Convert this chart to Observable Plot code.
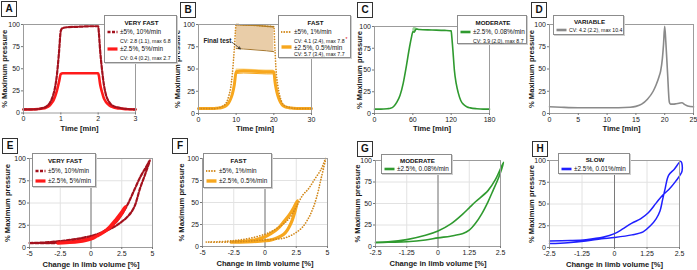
<!DOCTYPE html>
<html>
<head>
<meta charset="utf-8">
<script src="https://cdn.jsdelivr.net/npm/d3@7"></script>
<script src="https://cdn.jsdelivr.net/npm/@observablehq/plot@0.6"></script>
<style>
  html, body { margin: 0; padding: 0; background: #fff; }
  #figure { position: relative; width: 697px; height: 270px; overflow: hidden;
            font-family: "Liberation Sans", Arial, sans-serif; color: #111; }
  .panel { position: absolute; }
  .panel [aria-label="x-axis label"] text,
  .panel [aria-label="y-axis label"] text { font-weight: bold; font-size: 7.6px; }
  .tag { position: absolute; box-sizing: border-box; width: 16px; height: 16px; border: 1px solid #333;
         background: #fff; font-weight: bold; font-size: 10px; line-height: 14px; text-align: center; }
  .legend { position: absolute; box-sizing: border-box; border: 1px solid #8c8c8c; background: #fff;
            box-shadow: 1px 1px 0 #cfcfcf; padding-left: 2px; white-space: nowrap; }
  .legend .title { font-weight: bold; font-size: 6.2px; text-align: center; }
  .legend .row { font-size: 6.4px; display: flex; align-items: center; }
  .legend .row svg { margin-right: 2px; flex: none; }
  .legend .cv { font-size: 5.2px; padding-left: 13px; }
  .legend .row.small { font-size: 5.2px; }
  .legend .star { color: #e00000; font-size: 5px; vertical-align: 2px; margin-left: 1px; }
</style>
</head>
<body>
<div id="figure"></div>
<script>
// ---------- data ----------
const pressureTicks = [0, 25, 50, 75, 100];

// A: very fast protocols, time [min] vs % maximum pressure
const timeA = [0, 0.2, 0.4, 0.5, 0.6, 0.7, 0.75, 0.8, 0.85, 0.9, 0.95, 1.0, 1.05, 1.2, 1.5, 1.8, 2.0, 2.02, 2.05, 2.1, 2.15, 2.2, 2.3, 2.4, 2.5, 2.6, 2.8, 3.0];
const veryFast5 = [4, 4, 4.5, 5.5, 7, 11, 15, 21, 30, 45, 68, 93, 96, 97, 97.5, 98, 98, 90, 72, 50, 33, 22, 12, 8, 6.5, 5.5, 4.5, 4];
const veryFast25 = [4, 4, 4.5, 5, 6, 8.5, 11, 14, 19, 26, 35, 44, 45, 45, 45, 45, 45, 42, 33, 24, 17, 13, 8.5, 6.5, 5.5, 5, 4.2, 4];

// B: fast protocols
const timeB = [0, 2, 4, 5, 6, 7, 7.5, 8, 8.5, 9, 9.5, 10, 12, 15, 18, 20, 20.3, 20.6, 21, 21.5, 22, 22.5, 23, 24, 25, 27, 30];
const fast5 = [5.5, 5.5, 5.5, 6, 7.5, 10, 13, 19, 28, 45, 72, 100, 99.5, 99, 98, 97.5, 72, 48, 33, 21, 14, 10, 8.5, 7, 6, 5.5, 5.5];
const fast25 = [5.5, 5.5, 5.5, 6, 6.5, 8, 9.5, 12, 16, 22, 32, 47, 48, 47.5, 47, 47, 36, 28, 21, 15, 11, 8.5, 7.5, 6.5, 6, 5.5, 5.5];
const holdB = [10, 12, 15, 18, 20];
const fast5Peak = [100, 99.5, 99, 98, 97.5];
const fast5FinalTest = [73, 72.5, 71.5, 70.5, 69.5];
const fast25Low = [45, 45.5, 45, 44.5, 44.5];
const fast25High = [50, 50, 49.5, 49, 49];
const finalTestNote = {text: "Final test", x: 1.3, y: 82, fromX: 8.9, fromY: 80, toX: 11.1, toY: 72.7};

// C: moderate protocol
const timeC = [0, 10, 20, 25, 30, 35, 40, 45, 50, 55, 58, 60, 61, 62, 63, 65, 70, 90, 110, 120, 121, 123, 125, 128, 131, 135, 140, 145, 150, 160, 170, 180];
const moderate = [5, 5, 5.5, 6, 8, 13, 21, 35, 55, 77, 88, 94, 94, 93.5, 94.5, 97, 96.5, 96, 95.5, 95, 88, 70, 50, 34, 24, 15, 10, 7.5, 6.5, 5.5, 5, 5];
const holdC = [60, 62, 65, 68, 70];
const moderateLow = [93, 93, 95, 96.5, 96.5];
const moderateHigh = [97, 99.5, 98.5, 97.5, 96.5];

// D: variable protocol
const timeD = [0, 2, 5, 8, 10, 12, 14, 15, 16, 17, 18, 18.5, 19, 19.3, 19.6, 19.8, 20, 20.2, 20.5, 20.8, 21, 21.5, 22, 22.5, 23, 23.5, 24, 25];
const variable = [7.5, 7, 6.5, 6.5, 6.5, 6.5, 7, 8, 10.5, 16, 25, 32, 41, 48, 62, 78, 98, 80, 45, 13, 10.5, 10.5, 11, 11.5, 12, 10, 8.5, 7.5];

// E: very fast loops, change in limb volume [%] vs % maximum pressure
const volE5 = [-5, -4, -3, -2, -1, 0, 0.5, 1, 1.5, 2, 2.5, 3, 3.5, 4, 4.5, 4.78, 4.5, 4, 3.5, 3, 2.5, 2, 1.5, 1, 0.5, 0, -1, -2, -3, -4, -5];
const presE5 = [5, 5.5, 6.5, 8, 10, 13, 15, 18, 22, 28, 37, 49, 64, 79, 91, 98, 86, 67, 45, 35, 29, 24, 20.5, 17, 14, 11, 7.5, 6, 5, 4.8, 5];
const volE25 = [-2.7, -2, -1, 0, 0.5, 1, 1.5, 2, 2.5, 2.8, 2.5, 2, 1.5, 1, 0.5, 0, -1, -2, -2.7];
const presE25 = [5, 5.5, 7, 10, 13, 17, 22, 29, 38, 46, 40, 31, 23, 17, 13, 9.5, 6.5, 5.5, 5];

// F: fast loops
const volF5 = [-4.7, -3, -2, -1, 0, 0.5, 1, 1.5, 2, 2.5, 3, 3.5, 4, 4.5, 4.85, 4.5, 4.13, 3.8, 3.47, 3, 2.5, 2, 1.5, 1, 0, -1, -2, -3, -4.7];
const presF5 = [5, 6, 7.5, 10, 14, 17, 21, 26, 33, 45, 58, 66, 77, 88, 100, 78, 56, 42, 32, 22, 16, 12, 9.5, 8.5, 7.5, 6.5, 5.5, 5, 5];
const volF25 = [-2.7, -2, -1, 0, 0.5, 1, 1.5, 2, 2.3, 2.6, 2.4, 2.1, 1.8, 1.5, 1, 0.5, 0, -1, -2, -2.7];
const presF25 = [5, 5.5, 7, 11, 15, 20, 28, 37, 44, 52, 40, 27, 19, 14, 10, 7.5, 6.5, 5.5, 5, 5];

// G: moderate loop
const volG = [-2.5, -2, -1.25, -0.5, 0, 0.5, 1, 1.25, 1.5, 2, 2.3, 2.62, 2.45, 2.2, 2, 1.75, 1.5, 1.25, 1, 0.5, 0, -0.5, -1.25, -2, -2.5];
const presG = [5, 5.5, 8, 13, 18, 26, 38, 45, 52, 65, 78, 98, 82, 65, 52, 38, 27, 19, 15, 12, 10, 7.5, 5.5, 5, 4.5];

// H: slow loop
const volH = [-2.5, -1.8, -1.1, -0.5, 0, 0.67, 1.1, 1.38, 1.6, 1.75, 1.85, 1.95, 2.08, 2.3, 2.55, 2.6, 2.35, 2.1, 1.85, 1.6, 1.3, 1.0, 0.67, 0.3, 0, -0.42, -1.1, -1.7, -2.5];
const presH = [4.5, 5.5, 7.5, 10, 11.5, 14.5, 18, 25, 33, 42, 55, 68, 83, 90, 99, 88, 76, 67, 60, 51, 40, 33, 28, 21, 16, 12, 9, 8, 7.5];

// axis ticks and labels
const ticksA = [0, 1, 2, 3];
const ticksB = [0, 10, 20, 30];
const ticksC = [0, 60, 120, 180];
const ticksD = [0, 5, 10, 15, 20, 25];
const ticksWide = [-5, -2.5, 0, 2.5, 5];
const ticksNarrow = [-2.5, -1.25, 0, 1.25, 2.5];
const timeLabel = "Time [min]";
const volumeLabel = "Change in limb volume [%]";
const pressureLabel = "% Maximum pressure";

// legend contents
const legendA = {title: "VERY FAST", entries: [
  {key: "veryFast5", label: "±5%, 10%/min", cv: "CV: 2.8 (1.1), max 6.8"},
  {key: "veryFast25", label: "±2.5%, 5%/min", cv: "CV: 0.4 (0.2), max 2.7"}]};
const legendB = {title: "FAST", entries: [
  {key: "fast5", label: "±5%, 1%/min", cv: "CV: 4.1 (2.4), max 7.8", star: true},
  {key: "fast25", label: "±2.5%, 0.5%/min", cv: "CV: 5.7 (3.4), max 7.7"}]};
const legendC = {title: "MODERATE", entries: [
  {key: "moderate", label: "±2.5%, 0.08%/min", cv: "CV: 3.9 (2.0), max 8.7"}]};
const legendD = {title: "VARIABLE", entries: [
  {key: "variable", label: "CV: 4.2 (2.2), max 10.4", small: true}]};
const legendE = {title: "VERY FAST", entries: [
  {key: "veryFast5", label: "±5%, 10%/min"}, {key: "veryFast25", label: "±2.5%, 5%/min"}]};
const legendF = {title: "FAST", entries: [
  {key: "fast5", label: "±5%, 1%/min"}, {key: "fast25", label: "±2.5%, 0.5%/min"}]};
const legendG = {title: "MODERATE", entries: [{key: "moderate", label: "±2.5%, 0.08%/min"}]};
const legendH = {title: "SLOW", entries: [{key: "slow", label: "±2.5%, 0.01%/min"}]};

// ---------- styles ----------
const FONT = "Liberation Sans, Arial, sans-serif";
const styles = {
  veryFast5: {stroke: "#a3111d", strokeWidth: 2.2, strokeDasharray: "3.5,1.8"},
  veryFast25: {stroke: "#ff1a1a", strokeWidth: 2.6},
  fast5: {stroke: "#d2891c", strokeWidth: 1.7, strokeDasharray: "0.1,2.6", strokeLinecap: "round"},
  fast25: {stroke: "#f7a71e", strokeWidth: 3},
  moderate: {stroke: "#2f9a2f", strokeWidth: 1.6},
  variable: {stroke: "#8a8a8a", strokeWidth: 1.6},
  slow: {stroke: "#1f1fff", strokeWidth: 1.5}
};
const swatchStyles = {
  veryFast5: {stroke: "#a3111d", width: 2.6, dash: "3,1.5"},
  veryFast25: {stroke: "#ff1a1a", width: 3.2},
  fast5: {stroke: "#d2891c", width: 1.8, dash: "0.1,2.6", cap: "round"},
  fast25: {stroke: "#f7a71e", width: 3.4},
  moderate: {stroke: "#2f9a2f", width: 2.6},
  variable: {stroke: "#8a8a8a", width: 2.6},
  slow: {stroke: "#1f1fff", width: 2.6}
};

const zip = (xs, ys) => xs.map((x, i) => ({x, y: ys[i]}));
const band = (xs, lo, hi) => xs.map((x, i) => ({x, lo: lo[i], hi: hi[i]}));

// ---------- layout ----------
const fig = document.getElementById("figure");

function panel(p, marks) {
  const svg = Plot.plot({
    width: p.w, height: p.h,
    marginLeft: p.ml, marginRight: p.mr, marginTop: p.mt, marginBottom: p.mb,
    style: {fontFamily: FONT, fontSize: "7px", color: "#1a1a1a", background: "none", overflow: "visible"},
    x: {domain: p.xDomain},
    y: {domain: [0, 100]},
    marks: [
      p.grid ? Plot.gridX(p.xTicks, {stroke: "#e2e2e2", strokeOpacity: 1}) : null,
      p.grid ? Plot.gridY(pressureTicks, {stroke: "#e2e2e2", strokeOpacity: 1}) : null,
      p.zero ? Plot.ruleX([0], {stroke: "#7a7a7a", strokeWidth: 1}) : null,
      ...marks,
      Plot.frame({stroke: "#9c9c9c"}),
      Plot.axisX(p.xTicks, {tickSize: 2, tickPadding: 1.5, stroke: "#777", tickFormat: d => String(d),
        label: p.xLabel, labelAnchor: "center", labelOffset: p.xlo, labelArrow: "none"}),
      Plot.axisY(pressureTicks, {tickSize: 2, tickPadding: 1.5, stroke: "#777", tickFormat: d => String(d),
        label: pressureLabel, labelAnchor: "center", labelOffset: p.ylo, labelArrow: "none"})
    ]
  });
  const holder = document.createElement("div");
  holder.className = "panel";
  holder.style.left = p.left + "px";
  holder.style.top = p.top + "px";
  holder.appendChild(svg);
  fig.appendChild(holder);
}

function tag(letter, left, top) {
  const d = document.createElement("div");
  d.className = "tag";
  d.textContent = letter;
  d.style.left = left + "px";
  d.style.top = top + "px";
  fig.appendChild(d);
}

function swatch(key) {
  const s = swatchStyles[key];
  return `<svg width="11" height="6"><line x1="0.5" x2="10.5" y1="3" y2="3" stroke="${s.stroke}" stroke-width="${s.width}"` +
    (s.dash ? ` stroke-dasharray="${s.dash}"` : "") + (s.cap ? ` stroke-linecap="${s.cap}"` : "") + `/></svg>`;
}

function legend(spec, box) {
  const d = document.createElement("div");
  d.className = "legend";
  Object.assign(d.style, {left: box.left + "px", top: box.top + "px", width: box.width + "px",
    height: box.height + "px", paddingTop: box.pad + "px"});
  let html = `<div class="title" style="line-height:${box.titleLine}px;height:${box.titleLine}px">${spec.title}</div>`;
  for (const e of spec.entries) {
    html += `<div class="row${e.small ? " small" : ""}" style="height:${box.rowLine}px;line-height:${box.rowLine}px">${swatch(e.key)}<span>${e.label}</span></div>`;
    if (e.cv) html += `<div class="cv" style="line-height:${box.rowLine}px;height:${box.rowLine}px">${e.cv}${e.star ? '<span class="star">*</span>' : ""}</div>`;
  }
  d.innerHTML = html;
  fig.appendChild(d);
}

const curveT = "monotone-x";
const curveL = "catmull-rom";

// ---- A ----
panel({left: 0, top: 0, w: 175, h: 135, ml: 23, mr: 40, mt: 24, mb: 22.5, xDomain: [0, 3], xTicks: ticksA,
       xLabel: timeLabel, xlo: 17.5, ylo: 21.5}, [
  Plot.line(zip(timeA, veryFast25), {x: "x", y: "y", curve: curveT, ...styles.veryFast25}),
  Plot.line(zip(timeA, veryFast5), {x: "x", y: "y", curve: curveT, stroke: "#d04a50", strokeWidth: 0.8}),
  Plot.line(zip(timeA, veryFast5), {x: "x", y: "y", curve: curveT, ...styles.veryFast5})
]);

// ---- B ----
panel({left: 170, top: 0, w: 180, h: 135, ml: 28, mr: 39, mt: 24, mb: 22, xDomain: [0, 30], xTicks: ticksB,
       xLabel: timeLabel, xlo: 17.5, ylo: 23.5}, [
  Plot.areaY(band(holdB, fast5FinalTest, fast5Peak), {x: "x", y1: "lo", y2: "hi", fill: "#e9cda8"}),
  Plot.areaY(band(holdB, fast25Low, fast25High), {x: "x", y1: "lo", y2: "hi", fill: "#fcd88e"}),
  Plot.line(zip(holdB, fast25Low), {x: "x", y: "y", stroke: "#f7a71e", strokeWidth: 1}),
  Plot.line(zip(timeB, fast25), {x: "x", y: "y", curve: curveT, ...styles.fast25}),
  Plot.line(zip(timeB, fast5), {x: "x", y: "y", curve: curveT, ...styles.fast5}),
  Plot.line(zip(holdB, fast5Peak), {x: "x", y: "y", stroke: "#b07d26", strokeWidth: 1.4}),
  Plot.line(zip(holdB, fast5FinalTest), {x: "x", y: "y", stroke: "#a6772e", strokeWidth: 1}),
  Plot.arrow([finalTestNote], {x1: "fromX", y1: "fromY", x2: "toX", y2: "toY", stroke: "#222",
    strokeWidth: 0.8, strokeDasharray: "1.5,1", headLength: 4}),
  Plot.text([finalTestNote], {x: "x", y: "y", text: "text", textAnchor: "start", fontSize: 6.4,
    fontWeight: "bold", fill: "#222"})
]);

// ---- C ----
panel({left: 345, top: 0, w: 175, h: 135, ml: 29, mr: 31, mt: 26, mb: 22, xDomain: [0, 180], xTicks: ticksC,
       xLabel: timeLabel, xlo: 17.5, ylo: 17.5}, [
  Plot.areaY(band(holdC, moderateLow, moderateHigh), {x: "x", y1: "lo", y2: "hi", fill: "#9fd59b"}),
  Plot.line(zip(timeC, moderate), {x: "x", y: "y", curve: curveT, ...styles.moderate})
]);

// ---- D ----
panel({left: 520, top: 0, w: 177, h: 135, ml: 29, mr: 4, mt: 24, mb: 22, xDomain: [0, 25], xTicks: ticksD,
       xLabel: timeLabel, xlo: 17.5, ylo: 20.8}, [
  Plot.line(zip(timeD, variable), {x: "x", y: "y", curve: curveT, ...styles.variable})
]);

// ---- E ----
panel({left: 0, top: 135, w: 170, h: 135, ml: 29, mr: 18, mt: 23, mb: 23, xDomain: [-5, 5], xTicks: ticksWide,
       xLabel: volumeLabel, xlo: 19, ylo: 25, grid: true, zero: true}, [
  Plot.line(zip(volE5, presE5), {x: "x", y: "y", curve: curveL, ...styles.veryFast5}),
  Plot.line(zip(volE25, presE25), {x: "x", y: "y", curve: curveL, ...styles.veryFast25, strokeWidth: 3.2})
]);

// ---- F ----
panel({left: 170, top: 135, w: 175, h: 135, ml: 32, mr: 18, mt: 23, mb: 24, xDomain: [-5, 5], xTicks: ticksWide,
       xLabel: volumeLabel, xlo: 19, ylo: 23.8, grid: true, zero: true}, [
  Plot.line(zip(volF25, presF25), {x: "x", y: "y", curve: curveL, ...styles.fast25, strokeWidth: 3.2}),
  Plot.line(zip(volF5, presF5), {x: "x", y: "y", curve: curveL, ...styles.fast5})
]);

// ---- G ----
panel({left: 345, top: 135, w: 175, h: 135, ml: 30, mr: 20, mt: 25, mb: 24, xDomain: [-2.5, 2.5], xTicks: ticksNarrow,
       xLabel: volumeLabel, xlo: 19, ylo: 20.8, grid: true, zero: true}, [
  Plot.line(zip(volG, presG), {x: "x", y: "y", curve: curveL, ...styles.moderate})
]);

// ---- H ----
panel({left: 520, top: 135, w: 177, h: 135, ml: 29, mr: 18, mt: 25, mb: 23, xDomain: [-2.5, 2.5], xTicks: ticksNarrow,
       xLabel: volumeLabel, xlo: 19, ylo: 20.8, grid: true, zero: true}, [
  Plot.line(zip(volH, presH), {x: "x", y: "y", curve: curveL, ...styles.slow})
]);

// panel letters
tag("A", 1, 1); tag("B", 180, 2); tag("C", 357, 2); tag("D", 531, 2);
tag("E", 2, 138); tag("F", 172, 138); tag("G", 357, 141); tag("H", 532, 141);

// legends
legend(legendA, {left: 104, top: 15, width: 73, height: 48, pad: 2, titleLine: 10, rowLine: 8.5});
legend(legendB, {left: 278, top: 15, width: 73, height: 43, pad: 2, titleLine: 10, rowLine: 7.8});
legend(legendC, {left: 457, top: 15, width: 70, height: 29, pad: 2, titleLine: 10, rowLine: 8.5});
legend(legendD, {left: 553, top: 15, width: 71, height: 20, pad: 1, titleLine: 9, rowLine: 8});
legend(legendE, {left: 32, top: 153, width: 64, height: 34, pad: 2, titleLine: 10, rowLine: 10});
legend(legendF, {left: 203, top: 153, width: 69, height: 35, pad: 2, titleLine: 10, rowLine: 10});
legend(legendG, {left: 381, top: 154, width: 71, height: 20, pad: 1, titleLine: 9, rowLine: 8});
legend(legendH, {left: 558, top: 153, width: 72, height: 21, pad: 1, titleLine: 9, rowLine: 9});
</script>
</body>
</html>
